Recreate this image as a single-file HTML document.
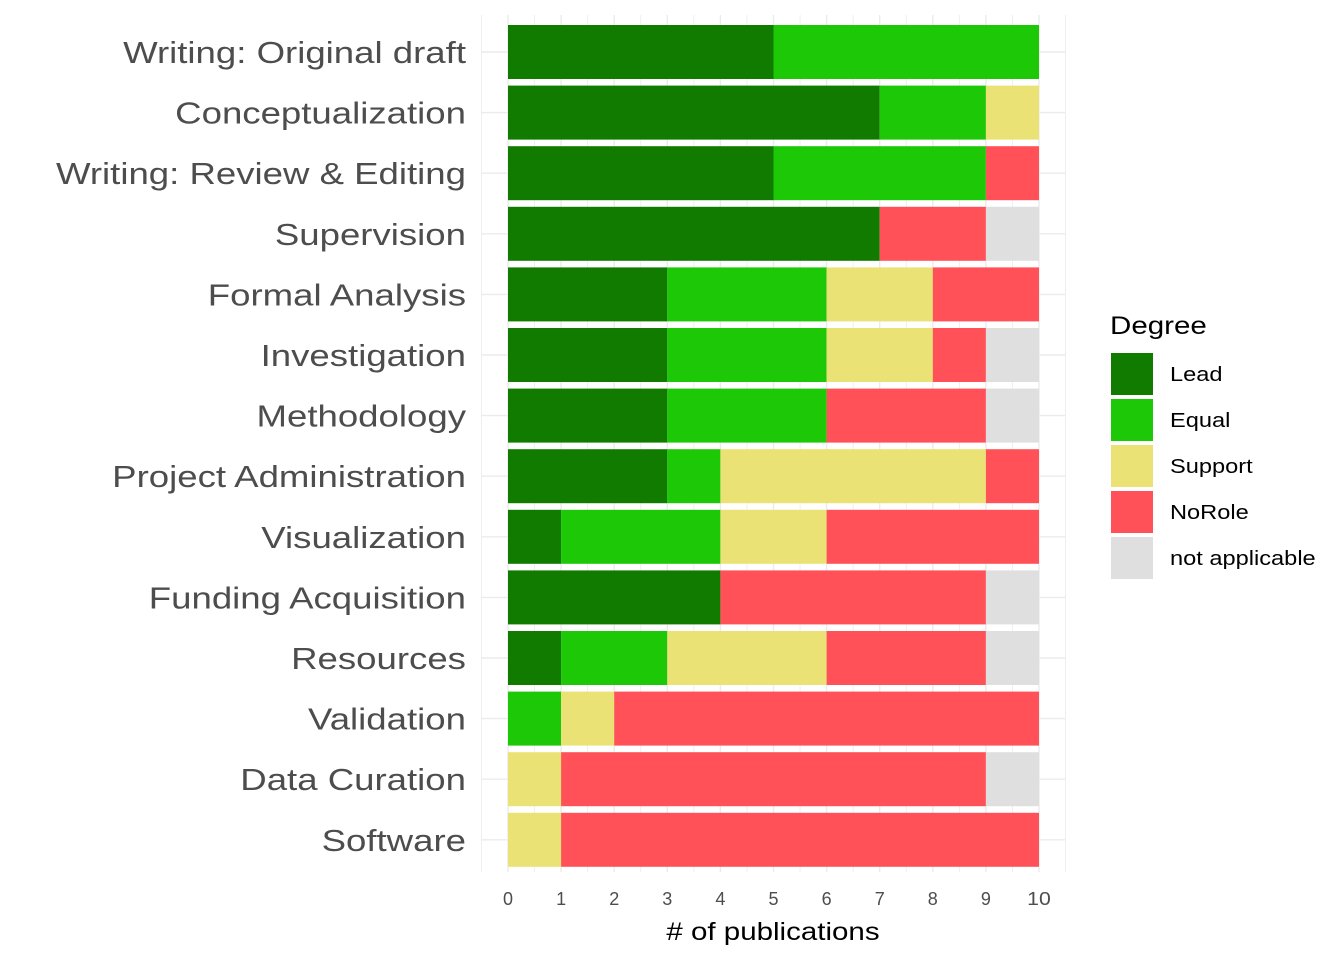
<!DOCTYPE html>
<html><head><meta charset="utf-8"><style>
body{margin:0;background:#fff;}
svg{display:block;font-family:"Liberation Sans",Arial,sans-serif;}
</style></head><body>
<svg id="chart" width="1344" height="960">
<g id="grid"></g>
<g id="bars"></g>
<g id="ylabels"></g>
<g id="xticks"></g>
<text x="773" y="940" font-size="25" text-anchor="middle" fill="#000"># of publications</text>
<g id="legend">
<text x="1110" y="334" font-size="25" fill="#000">Degree</text>
</g>
</svg>
<script>
const categories=["Writing: Original draft","Conceptualization","Writing: Review & Editing","Supervision","Formal Analysis","Investigation","Methodology","Project Administration","Visualization","Funding Acquisition","Resources","Validation","Data Curation","Software"];
const seriesNames=["Lead","Equal","Support","NoRole","not applicable"];
const lead=[5,7,5,7,3,3,3,3,1,4,1,0,0,0];
const equal=[5,2,4,0,3,3,3,1,3,0,2,1,0,0];
const support=[0,1,0,0,2,2,0,5,2,0,3,1,1,1];
const norole=[0,0,1,2,2,1,3,1,4,5,3,8,8,9];
const na=[0,0,0,1,0,1,1,0,0,1,1,0,1,0];
const xTicks=[0,1,2,3,4,5,6,7,8,9,10];
const colors=["#117b00","#1dc806","#ebe276","#ff5157","#dfdfdf"];
const NS="http://www.w3.org/2000/svg";
const x=v=>508+v*53.1;
const y=i=>52+i*60.6;
function mk(t,a,p){const e=document.createElementNS(NS,t);for(const k in a)e.setAttribute(k,a[k]);p.appendChild(e);return e;}
const grid=document.getElementById('grid');
for(let v=-0.5;v<=10.5;v+=0.5){
 const l=mk('line',{x1:x(v),x2:x(v),y1:15,y2:872,stroke:'#ebebeb','stroke-width':Number.isInteger(v)?1.4:0.8},grid);
 
 
}
categories.forEach((c,i)=>{
 const l=mk('line',{x1:481,x2:1065,y1:y(i),y2:y(i),stroke:'#ebebeb','stroke-width':1.4},grid);
 
 
});
const series=[lead,equal,support,norole,na];
const bars=document.getElementById('bars');
categories.forEach((c,i)=>{
 let acc=0;
 series.forEach((s,j)=>{
  const v=s[i];
  if(v>0){
   const r=mk('rect',{x:x(acc),y:y(i)-27,width:x(acc+v)-x(acc),height:54,fill:colors[j]},bars);
   
   
  }
  acc+=v;
 });
 const t=mk('text',{x:466,y:y(i)+11,'font-size':31,'text-anchor':'end',fill:'#4d4d4d'},document.getElementById('ylabels'));
 t.textContent=c;
 
 
});
const xt=document.getElementById('xticks');
xTicks.forEach(v=>{
 const t=mk('text',{x:x(v),y:905,'font-size':18,'text-anchor':'middle',fill:'#4d4d4d'},xt);
 t.textContent=v;
 
 
});
const lg=document.getElementById('legend');
seriesNames.forEach((n,j)=>{
 const r=mk('rect',{x:1111,y:353+j*46,width:42,height:42,fill:colors[j]},lg);
 
 
 const t=mk('text',{x:1170,y:381+j*46,'font-size':20,fill:'#000'},lg);
 t.textContent=n;
 
 
});
document.querySelectorAll('#chart text').forEach(t=>{
 const w=t.getComputedTextLength();
 if(t.textContent.length>1){
  t.setAttribute('textLength',(w*1.18).toFixed(1));
  t.setAttribute('lengthAdjust','spacingAndGlyphs');
 }
});
</script>
</body></html>
